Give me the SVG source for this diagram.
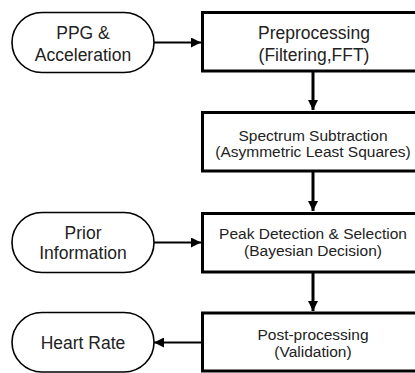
<svg xmlns="http://www.w3.org/2000/svg" width="415" height="373" viewBox="0 0 415 373">
<style>
.pill{fill:#fff;stroke:#000;stroke-width:1.6}
.box{fill:#fff;stroke:#000;stroke-width:3}
.t{font-family:"Liberation Sans",Arial,sans-serif;fill:#222;text-anchor:middle}
.lg{font-size:17.5px}
.sm{font-size:15.5px}
.edge{stroke:#000;fill:none}
.h{stroke-width:2.2}
.v{stroke-width:3}
</style>
<defs>
<marker id="ah" viewBox="0 0 10 10" refX="10" refY="5" markerWidth="10" markerHeight="10" markerUnits="userSpaceOnUse" orient="auto">
<path d="M0,0 L10,5 L0,10 z" fill="#000"/>
</marker>
</defs>
<g id="connectors">
<line class="edge h" x1="154" y1="42.5" x2="201" y2="42.5" marker-end="url(#ah)"/>
<line class="edge v" x1="313" y1="72" x2="313" y2="110" marker-end="url(#ah)"/>
<line class="edge v" x1="313" y1="172" x2="313" y2="211" marker-end="url(#ah)"/>
<line class="edge h" x1="154" y1="242.5" x2="201" y2="242.5" marker-end="url(#ah)"/>
<line class="edge v" x1="313" y1="273" x2="313" y2="311" marker-end="url(#ah)"/>
<line class="edge h" x1="201" y1="342.5" x2="154" y2="342.5" marker-end="url(#ah)"/>
</g>
<g id="ppg">
<rect class="pill" x="12" y="12.5" width="142" height="60" rx="30"/>
<text class="t lg" x="83" y="38.5">PPG &amp;</text>
<text class="t lg" x="83" y="60.5">Acceleration</text>
</g>
<g id="preprocessing">
<rect class="box" x="202.5" y="12.5" width="224" height="58.5"/>
<text class="t lg" x="314" y="38.5">Preprocessing</text>
<text class="t lg" x="314" y="60.5">(Filtering,FFT)</text>
</g>
<g id="spectrum">
<rect class="box" x="202.5" y="112.5" width="224" height="58.5"/>
<text class="t sm" x="313" y="141">Spectrum Subtraction</text>
<text class="t sm" x="313" y="157">(Asymmetric Least Squares)</text>
</g>
<g id="prior">
<rect class="pill" x="12" y="212.5" width="142" height="60" rx="30"/>
<text class="t lg" x="83" y="239">Prior</text>
<text class="t lg" x="83" y="258.5">Information</text>
</g>
<g id="peak">
<rect class="box" x="202.5" y="213.5" width="224" height="58.5"/>
<text class="t sm" x="313" y="238.5">Peak Detection &amp; Selection</text>
<text class="t sm" x="313" y="256">(Bayesian Decision)</text>
</g>
<g id="heartrate">
<rect class="pill" x="12" y="312.5" width="142" height="59.5" rx="30"/>
<text class="t lg" x="83" y="349">Heart Rate</text>
</g>
<g id="postprocessing">
<rect class="box" x="202.5" y="313" width="224" height="58"/>
<text class="t sm" x="313" y="339.5">Post-processing</text>
<text class="t sm" x="313" y="356.5">(Validation)</text>
</g>
</svg>
